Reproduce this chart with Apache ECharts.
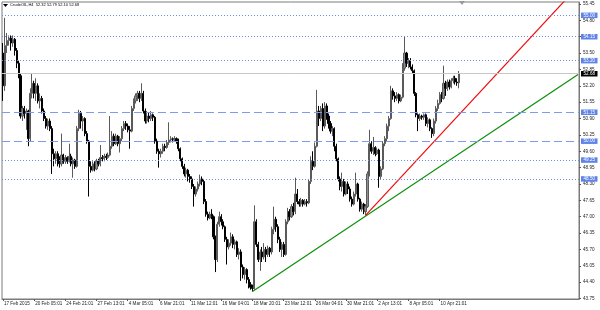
<!DOCTYPE html>
<html>
<head>
<meta charset="utf-8">
<script src="https://cdn.jsdelivr.net/npm/echarts@6/dist/echarts.min.js"></script>
<style>
html,body{margin:0;padding:0;background:#fff;}
#c{width:600px;height:310px;}
</style>
</head>
<body>
<div id="c"></div>
<script>
// ---- data ----
const symbolName = 'CrudeOIL,H4';
const slotCount = 296; // bar slots on the time axis (data + right shift space)
const tickLabels = ['17 Feb 2015','20 Feb 05:01','24 Feb 21:01','27 Feb 13:01','4 Mar 05:01','6 Mar 21:01','11 Mar 12:01','16 Mar 04:01','18 Mar 20:01','23 Mar 12:01','26 Mar 04:01','30 Mar 21:01','2 Apr 13:01','8 Apr 05:01','10 Apr 21:01'];
const barsPerLabel = 16;
const yTicks = [43.75,44.40,45.05,45.70,46.35,47.00,47.65,48.30,48.95,49.60,50.25,50.90,51.55,52.20,52.85,53.50,54.15,54.80,55.45];
const yMin = 43.73, yMax = 55.53;
// candles: [open, close, low, high]
const candles = [
[53.5,52.2,51.6,53.9],[52.2,53.8,52.0,54.9],[53.8,54.0,53.5,54.3],[54.0,54.1,53.8,54.2],[54.1,53.9,53.6,54.2],
[53.9,54.05,53.75,54.2],[54.05,53.6,53.4,54.1],[53.6,53.1,52.9,53.7],[53.1,52.6,52.5,53.2],[52.6,51.0,50.9,52.7],
[51.0,51.3,50.8,51.4],[51.3,51.1,50.9,51.4],[51.1,51.2,50.45,51.3],[51.2,50.1,49.8,51.25],[50.1,51.9,50.0,52.1],
[51.9,52.3,51.7,52.7],[52.3,51.9,51.7,52.4],[51.9,52.2,51.6,52.5],[52.2,51.6,51.5,52.3],[51.6,51.7,51.3,51.9],
[51.7,51.2,51.1,51.8],[51.2,50.9,50.8,51.3],[50.9,50.6,50.5,51.0],[50.6,50.8,50.45,50.9],[50.8,50.5,50.4,50.9],
[50.5,49.5,48.7,50.6],[49.5,49.3,49.0,49.7],[49.3,49.5,49.1,49.6],[49.5,49.3,49.0,49.6],[49.3,49.1,48.95,49.4],
[49.1,49.45,49.0,50.3],[49.45,49.2,49.1,49.5],[49.2,49.35,49.1,49.45],[49.35,49.2,49.1,49.4],[49.2,49.4,49.15,49.9],
[49.4,49.1,49.0,49.5],[49.1,49.25,48.55,49.35],[49.25,49.0,48.9,49.3],[49.0,50.5,48.95,50.6],[50.5,51.1,50.4,51.25],
[51.1,50.8,50.5,51.2],[50.8,50.9,50.4,51.0],[50.9,50.3,50.2,50.95],[50.3,50.0,49.9,50.4],[50.0,49.0,47.8,50.05],
[49.0,48.85,48.75,49.2],[48.85,49.1,48.8,49.2],[49.1,48.9,48.8,49.2],[48.9,49.2,48.85,49.3],[49.2,49.1,49.0,49.3],
[49.1,49.35,49.0,49.85],[49.35,49.3,49.2,49.45],[49.3,49.4,49.2,49.5],[49.4,49.35,49.25,49.5],[49.35,49.45,49.3,49.55],
[49.45,49.8,49.4,51.0],[49.8,50.2,49.7,50.4],[50.2,49.9,49.8,50.3],[49.9,50.2,49.85,50.3],[50.2,49.9,49.8,50.25],
[49.9,50.1,49.55,50.2],[50.1,50.5,50.0,50.6],[50.5,50.7,50.4,50.8],[50.7,50.6,50.45,50.8],[50.6,50.45,50.35,50.7],
[50.45,50.4,49.7,50.6],[50.4,51.3,50.35,51.4],[51.3,51.6,51.2,51.7],[51.6,51.8,51.5,51.9],[51.8,51.9,51.6,52.0],
[51.9,51.7,51.55,52.0],[51.7,51.9,51.6,52.3],[51.9,51.2,51.1,52.0],[51.2,50.8,50.7,51.3],[50.8,51.0,50.7,51.2],
[51.0,50.9,50.75,51.15],[50.9,51.05,50.8,51.2],[51.05,50.95,50.8,51.1],[50.95,50.0,49.9,51.0],[50.0,49.6,49.5,50.1],
[49.6,49.5,48.95,49.7],[49.5,49.6,49.35,49.7],[49.6,49.8,49.5,49.9],[49.8,49.75,49.6,49.9],[49.75,49.95,49.7,50.05],
[49.95,50.05,49.85,50.75],[50.05,50.1,49.95,50.2],[50.1,50.05,49.95,50.15],[50.05,50.1,49.98,50.2],[50.1,50.0,49.9,50.15],
[50.0,49.7,49.6,50.1],[49.7,49.3,49.2,49.75],[49.3,49.0,48.9,49.35],[49.0,48.7,48.6,49.1],[48.7,48.85,48.55,48.95],
[48.85,48.6,48.4,48.9],[48.6,48.5,48.35,48.7],[48.5,48.2,48.1,48.6],[48.2,47.9,47.4,48.3],[47.9,48.1,47.8,48.2],
[48.1,48.3,48.0,48.4],[48.3,48.5,48.2,48.67],[48.5,48.4,48.25,48.6],[48.4,47.6,47.5,48.5],[47.6,47.1,47.0,47.7],
[47.1,46.95,46.85,47.2],[46.95,47.1,46.9,47.2],[47.1,47.0,46.9,47.3],[47.0,46.2,46.1,47.05],[46.2,45.3,44.8,46.25],
[45.3,46.7,45.2,46.8],[46.7,47.0,46.6,47.2],[47.0,46.8,46.65,47.1],[46.8,46.6,46.5,46.9],[46.6,46.1,46.0,46.65],
[46.1,45.8,45.1,46.2],[45.8,45.95,45.7,46.1],[45.95,46.2,45.85,46.37],[46.2,45.9,45.75,46.3],[45.9,46.0,45.7,46.1],
[46.0,45.5,45.4,46.05],[45.5,45.6,45.3,45.75],[45.6,45.0,44.45,45.7],[45.0,44.7,44.55,45.1],[44.7,44.9,44.5,45.0],
[44.9,44.5,44.35,44.95],[44.5,44.3,44.15,44.6],[44.3,44.2,44.1,44.4],[44.2,44.15,44.03,44.3],[44.15,46.8,44.1,47.45],
[46.8,45.9,45.8,46.9],[45.9,45.3,45.2,46.0],[45.3,45.6,44.85,45.7],[45.6,45.4,45.2,45.8],[45.4,45.7,45.3,45.95],
[45.7,45.5,45.2,45.8],[45.5,45.75,45.4,45.85],[45.75,45.6,45.4,45.8],[45.6,46.5,45.5,46.6],[46.5,46.9,46.3,47.4],
[46.9,46.6,46.4,47.0],[46.6,46.1,45.95,46.7],[46.1,45.7,45.6,46.2],[45.7,45.9,45.4,46.0],[45.9,45.5,45.4,46.0],
[45.5,46.8,45.45,46.9],[46.8,47.2,46.7,47.35],[47.2,47.0,46.85,47.3],[47.0,47.4,46.95,47.5],[47.4,47.2,47.05,47.55],
[47.2,47.9,47.1,48.55],[47.9,47.6,47.5,48.1],[47.6,47.5,47.4,47.7],[47.5,47.65,47.4,47.75],[47.65,47.5,47.4,47.7],
[47.5,47.6,47.45,47.7],[47.6,47.55,47.4,47.7],[47.55,48.4,47.5,48.5],[48.4,49.2,48.3,49.4],[49.2,49.0,48.85,49.6],
[49.0,49.8,48.95,49.95],[49.8,51.2,49.75,52.04],[51.2,50.9,50.6,51.4],[50.9,51.3,50.8,51.4],[51.3,50.6,50.4,51.5],
[50.6,51.4,50.5,51.55],[51.4,51.0,50.85,51.5],[51.0,50.7,50.5,51.1],[50.7,50.4,50.3,50.8],[50.4,50.5,50.2,50.6],
[50.5,49.8,49.6,50.55],[49.8,49.3,49.2,49.9],[49.3,48.5,48.4,49.35],[48.5,48.2,48.05,48.6],[48.2,48.4,48.0,48.75],
[48.4,47.9,47.8,48.5],[47.9,48.3,47.85,48.4],[48.3,48.1,47.9,48.4],[48.1,47.7,47.6,48.2],[47.7,47.5,47.4,47.8],
[47.5,47.9,47.45,48.0],[47.9,48.3,47.8,48.75],[48.3,47.7,47.6,48.35],[47.7,47.3,47.2,47.75],[47.3,47.5,47.2,47.6],
[47.5,47.2,47.1,47.55],[47.2,47.4,47.05,47.5],[47.4,48.7,47.35,48.8],[48.7,49.9,48.6,50.45],[49.9,49.6,49.5,50.0],
[49.6,49.75,49.45,50.17],[49.75,49.5,49.4,49.8],[49.5,49.65,49.45,49.75],[49.65,48.6,48.15,49.7],[48.6,48.9,48.5,49.0],
[48.9,49.9,48.85,50.0],[49.9,50.1,49.8,50.2],[50.1,50.6,50.0,50.7],[50.6,50.9,50.4,51.0],[50.9,52.0,50.85,52.2],
[52.0,51.8,51.65,52.1],[51.8,51.7,51.55,51.95],[51.7,51.85,51.6,51.95],[51.85,51.6,51.5,51.9],[51.6,51.75,51.55,51.85],
[51.75,52.9,51.7,53.1],[52.9,53.5,52.8,54.14],[53.5,53.1,52.95,53.55],[53.1,53.2,52.9,53.3],[53.2,52.95,52.85,53.3],
[52.95,52.8,52.7,53.05],[52.8,51.9,51.8,52.85],[51.9,51.05,50.95,51.95],[51.05,50.9,50.4,51.1],[50.9,51.0,50.8,51.1],
[51.0,50.95,50.85,51.05],[50.95,51.05,50.85,51.1],[51.05,50.7,50.6,51.1],[50.7,50.85,50.55,50.95],[50.85,50.5,50.4,50.9],
[50.5,50.3,50.13,50.55],[50.3,50.8,50.2,50.9],[50.8,51.3,50.7,51.4],[51.3,51.5,51.2,51.65],[51.5,51.85,51.45,51.95],
[51.85,51.7,51.55,51.95],[51.7,52.3,51.65,53.0],[52.3,52.1,51.8,52.4],[52.1,52.35,52.0,52.45],[52.35,52.15,52.05,52.45],
[52.15,52.4,52.1,52.5],[52.4,52.5,52.3,52.6],[52.5,52.35,52.25,52.6],[52.35,52.32,52.2,52.5],[52.32,52.68,52.10,52.79]
];
const dottedLevels = [55.00, 54.15, 53.20, 49.25, 48.50];
const dashedLevels = [51.15, 50.00];
const bidPrice = 52.68;
// trend lines: [barIndex, price]
const greenTrend = [[128, 44.03], [295, 52.65]];
const redTrend = [[186, 47.05], [295, 56.15]];

// ---- build ----
const categories = [];
for (let i = 0; i < slotCount; i++) {
  const k = i / barsPerLabel;
  categories.push(Number.isInteger(k) && k < tickLabels.length ? tickLabels[k] : '');
}
const last = candles[candles.length - 1];
const titleText = symbolName + '  ' + [last[0], last[3], last[2], last[1]].map(v => v.toFixed(2)).join(' ');

const FONT = 'Liberation Sans';
const FS = 4.6;
const showLabel = (i, v) => v !== '';

const levelLabel = (bg) => ({
  show: true, position: 'end', distance: 2, formatter: p => p.value.toFixed(2),
  backgroundColor: bg, color: '#fff', fontSize: FS, fontFamily: FONT, padding: [0.5, 2.5, 0, 2.5]
});

const markData = [];
dottedLevels.forEach(v => markData.push({ yAxis: v, lineStyle: { color: '#6c8ce6', type: [1, 2], width: 1 }, label: levelLabel('#5f84e6') }));
dashedLevels.forEach(v => markData.push({ yAxis: v, lineStyle: { color: '#7f9cec', type: [8, 4], width: 1 }, label: levelLabel('#5f84e6') }));
markData.push({ yAxis: bidPrice, lineStyle: { color: '#c8c8c8', type: 'solid', width: 1 }, label: levelLabel('#000') });

const chart = echarts.init(document.getElementById('c'), null, { renderer: 'canvas' });
chart.setOption({
  animation: false,
  backgroundColor: '#fff',
  grid: { left: 2, right: 21, top: 2, bottom: 11, show: true, borderColor: '#7a7a7a', borderWidth: 1, backgroundColor: '#fff' },
  xAxis: {
    type: 'category', data: categories, boundaryGap: true,
    axisLine: { show: true, lineStyle: { color: '#7a7a7a' } },
    axisTick: { show: true, interval: showLabel, alignWithLabel: true, length: 2, lineStyle: { color: '#555' } },
    axisLabel: { interval: showLabel, align: 'left', margin: 2, fontSize: FS, fontFamily: FONT, color: '#222', padding: [0, 0, 0, 1] },
    splitLine: { show: false }
  },
  yAxis: {
    type: 'value', position: 'right', min: yMin, max: yMax,
    axisLine: { show: true, lineStyle: { color: '#7a7a7a' } },
    axisTick: { show: true, customValues: yTicks, length: 2, lineStyle: { color: '#555' } },
    axisLabel: { customValues: yTicks.slice(1), formatter: v => v.toFixed(2), margin: 4, fontSize: FS, fontFamily: FONT, color: '#222' },
    splitLine: { show: false }
  },
  series: [
    {
      type: 'candlestick', data: candles, barWidth: 1.6, z: 3,
      itemStyle: { color: '#8e8e8e', borderColor: '#5a5a5a', color0: '#000', borderColor0: '#000', borderWidth: 1 },
      markLine: { silent: true, symbol: ['none', 'none'], precision: 2, z: 10, data: markData }
    },
    { type: 'line', data: greenTrend, symbol: 'none', clip: true, z: 4, lineStyle: { color: '#0c900c', width: 1.2 } },
    { type: 'line', data: redTrend, symbol: 'none', clip: true, z: 4, lineStyle: { color: '#ee0c0c', width: 1.2 } }
  ],
  graphic: [
    { type: 'polygon', shape: { points: [[3, 4], [8, 4], [5.5, 7]] }, style: { fill: '#000' }, z: 20 },
    { type: 'text', left: 10, top: 3, style: { text: titleText, fontSize: 4.0, fontFamily: FONT, fill: '#000' }, z: 20 },
    { type: 'polygon', shape: { points: [[459, 1], [465, 1], [462, 5]] }, style: { fill: '#9a9a9a' }, z: 20 },
    // lowest scale value label, sitting on the bottom frame
    { type: 'text', left: 583, bottom: 8.5, z: 100, zlevel: 1,
      style: { text: yTicks[0].toFixed(2), fontSize: FS, fontFamily: FONT, fill: '#222' } }
  ]
});
</script>
</body>
</html>
